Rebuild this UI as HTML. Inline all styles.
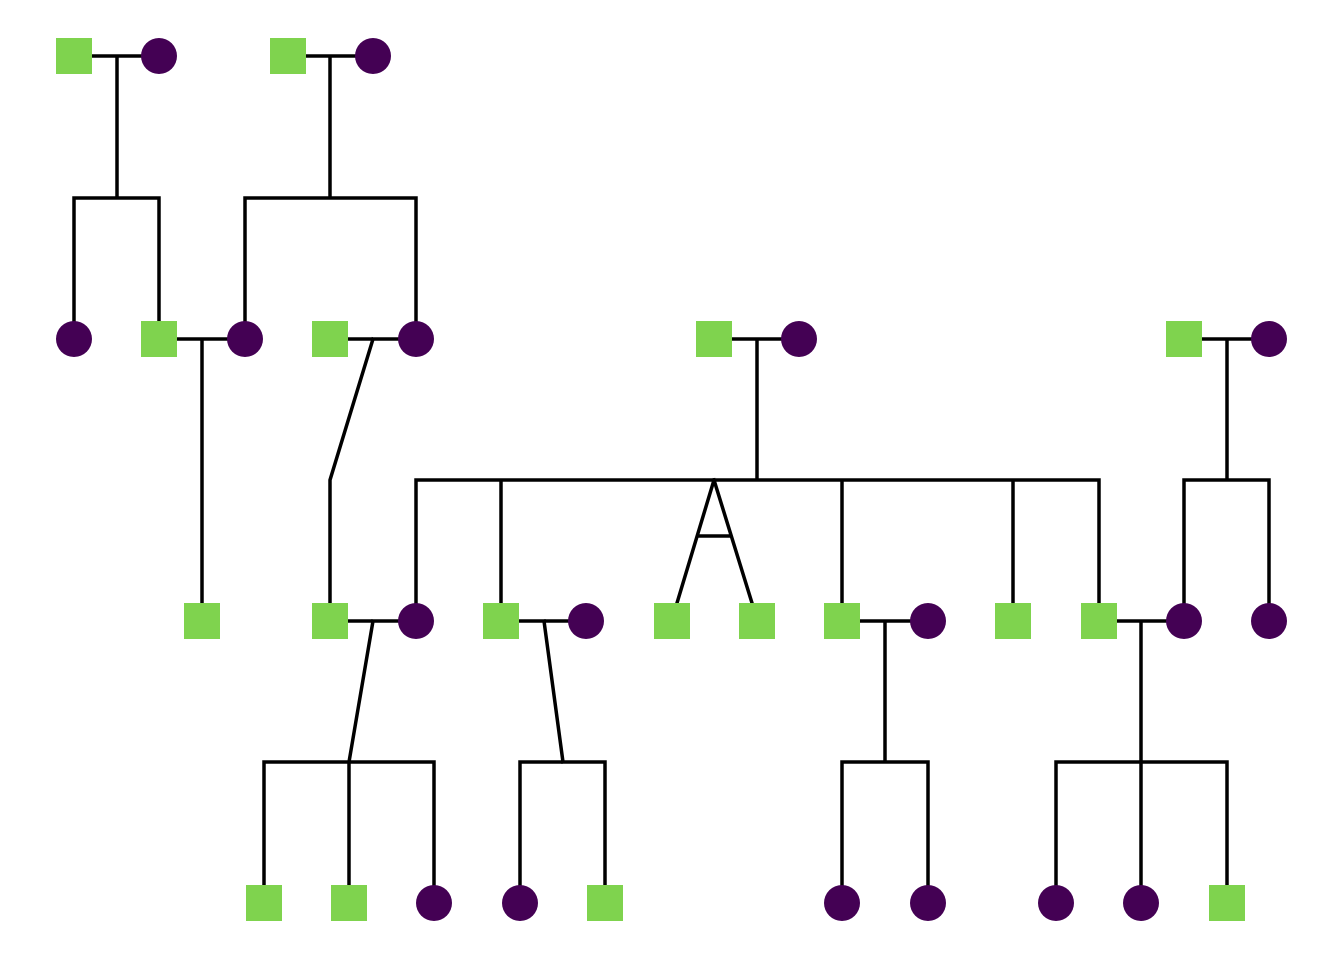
<!DOCTYPE html>
<html><head><meta charset="utf-8"><style>html,body{margin:0;padding:0;background:#fff;}svg{display:block}</style></head>
<body>
<svg width="1344" height="960" viewBox="0 0 1344 960" xmlns="http://www.w3.org/2000/svg">
<g stroke="#000" stroke-width="3.5" fill="none" stroke-linecap="square">
<!-- gen1 -->
<path d="M92 56H141M117 56V198M74 198H159M74 198V321M159 198V321"/>
<path d="M306 56H355M330 56V198M245 198H416M245 198V321M416 198V321"/>
<!-- gen2 couples -->
<path d="M177 339H227M202 339V603"/>
<path d="M348 339H398M373 339L330 480V603"/>
<path d="M732 339H781M757 339V480M416 480H1099M416 480V603M501 480V603M842 480V603M1013 480V603M1099 480V603"/>
<path d="M714 480L677 603M714 480L752 603M699 536H730"/>
<path d="M1202 339H1251M1227 339V480M1184 480H1269M1184 480V603M1269 480V621"/>
<!-- gen3 couples -->
<path d="M348 621H398M373 621L349 762M264 762H434M264 762V885M349 762V885M434 762V885"/>
<path d="M519 621H568M544 621L563 762M520 762H605M520 762V885M605 762V885"/>
<path d="M860 621H910M885 621V762M842 762H928M842 762V885M928 762V885"/>
<path d="M1117 621H1166M1141 621V762M1056 762H1227M1056 762V885M1141 762V885M1227 762V885"/>
</g>
<g fill="#7fd34e">
<rect x="56" y="38" width="36" height="36"/><rect x="270" y="38" width="36" height="36"/>
<rect x="141" y="321" width="36" height="36"/><rect x="312" y="321" width="36" height="36"/><rect x="696" y="321" width="36" height="36"/><rect x="1166" y="321" width="36" height="36"/>
<rect x="184" y="603" width="36" height="36"/><rect x="312" y="603" width="36" height="36"/><rect x="483" y="603" width="36" height="36"/><rect x="654" y="603" width="36" height="36"/><rect x="739" y="603" width="36" height="36"/><rect x="824" y="603" width="36" height="36"/><rect x="995" y="603" width="36" height="36"/><rect x="1081" y="603" width="36" height="36"/>
<rect x="246" y="885" width="36" height="36"/><rect x="331" y="885" width="36" height="36"/><rect x="587" y="885" width="36" height="36"/><rect x="1209" y="885" width="36" height="36"/>
</g>
<g fill="#440154">
<circle cx="159" cy="56" r="18"/><circle cx="373" cy="56" r="18"/>
<circle cx="74" cy="339" r="18"/><circle cx="245" cy="339" r="18"/><circle cx="416" cy="339" r="18"/><circle cx="799" cy="339" r="18"/><circle cx="1269" cy="339" r="18"/>
<circle cx="416" cy="621" r="18"/><circle cx="586" cy="621" r="18"/><circle cx="928" cy="621" r="18"/><circle cx="1184" cy="621" r="18"/><circle cx="1269" cy="621" r="18"/>
<circle cx="434" cy="903" r="18"/><circle cx="520" cy="903" r="18"/><circle cx="842" cy="903" r="18"/><circle cx="928" cy="903" r="18"/><circle cx="1056" cy="903" r="18"/><circle cx="1141" cy="903" r="18"/>
</g>
</svg>
</body></html>
